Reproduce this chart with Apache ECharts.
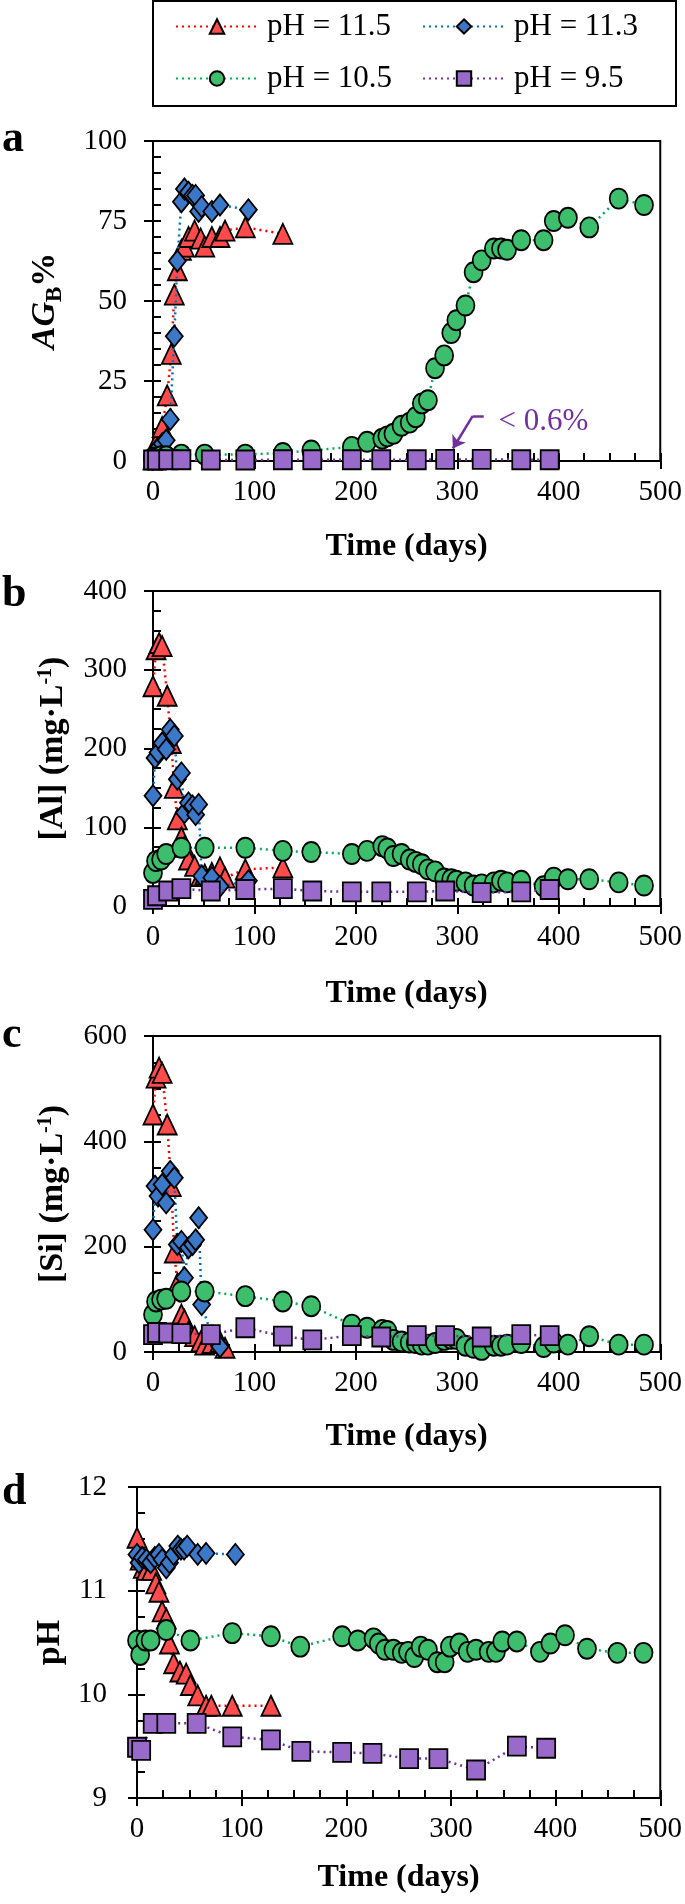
<!DOCTYPE html>
<html><head><meta charset="utf-8">
<script src="https://cdn.jsdelivr.net/npm/echarts@6/dist/echarts.min.js"></script>
<style>html,body{margin:0;padding:0;background:#fff}#c{width:685px;height:1904px}</style>
</head><body><div id="c"></div>
<script>
// ---------- DATA ----------
const seriesNames = ['pH = 11.5', 'pH = 11.3', 'pH = 10.5', 'pH = 9.5'];
const xTickLabels = [0, 100, 200, 300, 400, 500];

// pH = 11.5 (red triangles)
const tRed   = [0, 3, 6, 9, 14, 18, 21, 24, 28, 31, 35, 41, 47, 51, 58, 66, 71, 91, 128];
const redAG  = [0.5, 5, 7.5, 10.6, 20.5, 33.5, 52, 59.6, 66, 67, 70, 72, 69.5, 67, 70, 70, 72, 73, 71];
const redAl  = [279, 326, 334, 330, 267, 207, 150, 110, 87, 75, 59, 51, 38, 40, 42, 49, 36, 46.5, 49];
const redSi  = [451, 521, 540, 530, 432, 315, 189, 130, 71, 61, 39, 30, 20, 14, 17, 20, 8, null, null];
const redPH  = [11.51, 11.3, 11.22, 11.2, 11.2, 11.07, 10.99, 10.8, 10.73, 10.49, 10.3, 10.22, 10.2, 10.09, 9.99, 9.89, 9.89, 9.89, 9.89];

// pH = 11.3 (blue diamonds)
const tBlue  = [0, 2, 5, 9, 13, 17, 21, 24, 28, 31, 35, 39, 42, 45, 48, 58, 66, 94];
const blueAG = [0.5, 2, 4, 5.4, 6.5, 13, 39, 62.5, 81, 85, 84, 83, 83, 78, 79.5, 78, 80, 78.5];
const blueAl = [140, 188, 195, 207, 199, 224, 216, 161, 169, 118.5, 131, 127, 116, 129, 38, 36, 25, 32];
const blueSi = [232, 315, 296, 318, 283, 343, 331, 204, 210, 141, 198, 204, 213, 255, 90, 30, 10, null];
const bluePH = [11.35, 11.27, 11.32, 11.3, 11.27, 11.32, 11.35, 11.3, 11.22, 11.27, 11.35, 11.43, 11.4, 11.4, 11.43, 11.35, 11.36, 11.35];

// pH = 10.5 (green circles)
const tGreen  = [0, 3, 8, 13, 28, 51, 91, 128, 156, 196, 211, 226, 231, 237, 245, 253, 259, 265, 271, 278, 287, 294, 299, 308, 316, 324, 336, 343, 349, 363, 385, 395, 409, 430, 459, 484];
const greenAG = [1, 1, 1.5, 1.5, 2, 2, 2, 2.5, 3.3, 4.4, 6, 7, 7.7, 8.5, 11, 12, 13.7, 18, 19, 29, 33, 40, 44, 48.6, 59, 62.7, 66.4, 66.4, 66, 69, 69, 75, 76, 73, 82, 80];
const greenAl = [42, 57, 59, 66, 74, 74, 74, 70, 68.6, 66, 70, 76, 73, 63.5, 66, 59, 56, 53, 46.5, 44, 35, 34, 32, 30, 26, 27.5, 30, 32, 30, 32, 25, 36, 34, 34, 30, 26];
const greenSi = [71, 96, 99.5, 101, 115, 115, 106, 96, 87, 52, 46, 42, 40, 23, 20, 18, 17, 14, 14, 17, 23, 25, 25, 12, 8, 4, 12, 12, 14, 17, 9.5, 18, 14, 30, 14, 14];
const greenPH = [10.52, 10.38, 10.52, 10.52, 10.62, 10.52, 10.59, 10.56, 10.46, 10.56, 10.52, 10.54, 10.49, 10.43, 10.43, 10.4, 10.41, 10.36, 10.46, 10.43, 10.31, 10.31, 10.46, 10.49, 10.41, 10.43, 10.41, 10.41, 10.51, 10.51, 10.41, 10.49, 10.57, 10.44, 10.4, 10.4];

// pH = 9.5 (purple squares)
const tPurple  = [0, 4, 15, 28, 57, 91, 128, 157, 196, 225, 260, 288, 324, 363, 391];
const purpleAG = [0.3, 0.3, 0.4, 0.4, 0.3, 0.3, 0.4, 0.4, 0.4, 0.4, 0.4, 0.5, 0.5, 0.4, 0.4];
const purpleAl = [8.5, 13, 19, 22, 19, 21, 22, 19, 18, 18, 18, 19, 17, 18, 21];
const purpleSi = [33, 37, 36, 35, 33, 46, 30, 23, 31, 28.5, 31, 31, 28.5, 33, 31];
const purplePH = [9.49, 9.46, 9.72, 9.72, 9.72, 9.59, 9.56, 9.45, 9.44, 9.43, 9.38, 9.38, 9.27, 9.5, 9.48];

// panel y-axes
const panelLetters = ['a', 'b', 'c', 'd'];
const yMin = [0, 0, 0, 9];
const yMax = [100, 400, 600, 12];
const yStep = [25, 100, 200, 1];
const yMinorSplit = [5, 4, 4, 4];

// annotation (panel a) in data units
const noteText = '< 0.6%';
const notePath = [[326, 14], [315, 14], [295.6, 3.9]];
const noteAnchor = [340, 12.3];

// ---------- STYLE ----------
const FONT = 'Liberation Serif';
const FILL = ['#FF4B4B', '#3B78C8', '#3DBE6C', '#9A6ACB'];
const LINE = ['#FF0000', '#0070C0', '#00B050', '#7030A0'];
const SYMBOL = ['triangle', 'diamond', 'circle', 'rect'];
const SYMSIZE = [[19, 20], [17, 21], [18, 20], [18, 19]];

const grids = [
  { left: 153, right: 22, top: 141, height: 320 },
  { left: 153, right: 22, top: 591, height: 315 },
  { left: 153, right: 22, top: 1036, height: 316 },
  { left: 137, right: 22, top: 1487, height: 311 }
].map(g => Object.assign({ show: true, borderColor: '#000', borderWidth: 2, backgroundColor: 'transparent' }, g));

const yNames = [
  '{i|AG}{s|B}{p|%}',
  '{p|[Al] (mg·L}{u|-1}{p|)}',
  '{p|[Si] (mg·L}{u|-1}{p|)}',
  '{p|pH}'
];
const yNameGap = [86, 83, 83, 65];
const xNameGap = [70, 72, 69, 64];
const rich = {
  i: { fontFamily: FONT, fontStyle: 'italic', fontWeight: 'bold', fontSize: 34, lineHeight: 34, color: '#000' },
  p: { fontFamily: FONT, fontWeight: 'bold', fontSize: 34, lineHeight: 34, color: '#000' },
  s: { fontFamily: FONT, fontWeight: 'bold', fontSize: 23, lineHeight: 44, verticalAlign: 'bottom', color: '#000' },
  u: { fontFamily: FONT, fontWeight: 'bold', fontSize: 20, lineHeight: 34, verticalAlign: 'top', color: '#000' }
};

const xAxes = [], yAxes = [], series = [];
const allData = [
  [[tRed, redAG], [tBlue, blueAG], [tGreen, greenAG], [tPurple, purpleAG]],
  [[tRed, redAl], [tBlue, blueAl], [tGreen, greenAl], [tPurple, purpleAl]],
  [[tRed, redSi], [tBlue, blueSi], [tGreen, greenSi], [tPurple, purpleSi]],
  [[tRed, redPH], [tBlue, bluePH], [tGreen, greenPH], [tPurple, purplePH]]
];
function pairs(t, v) { return t.map((x, i) => v[i] == null ? null : [x, v[i]]).filter(p => p); }

for (let g = 0; g < 4; g++) {
  const xBase = { gridIndex: g, type: 'value', min: xTickLabels[0], max: xTickLabels[xTickLabels.length - 1], interval: 100,
    position: 'bottom', splitLine: { show: false },
    axisLine: { onZero: false, lineStyle: { color: '#000', width: 2 } } };
  xAxes.push(Object.assign({}, xBase, {
    axisTick: { inside: false, length: 8, lineStyle: { color: '#000', width: 2 } },
    axisLabel: { fontFamily: FONT, fontSize: 29, color: '#000', margin: 17 },
    name: 'Time (days)', nameLocation: 'middle', nameGap: xNameGap[g],
    nameTextStyle: { fontFamily: FONT, fontWeight: 'bold', fontSize: 32, color: '#000' }
  }));
  xAxes.push(Object.assign({}, xBase, {
    axisTick: { inside: true, length: 8, lineStyle: { color: '#000', width: 2 } },
    minorTick: { show: true, splitNumber: 4, length: 8, lineStyle: { color: '#000', width: 2 } },
    axisLabel: { show: false }
  }));
  const yBase = { gridIndex: g, type: 'value', min: yMin[g], max: yMax[g], interval: yStep[g], position: 'left',
    splitLine: { show: false }, axisLine: { onZero: false, lineStyle: { color: '#000', width: 2 } } };
  yAxes.push(Object.assign({}, yBase, {
    axisTick: { inside: false, length: 9, lineStyle: { color: '#000', width: 2 } },
    axisLabel: { fontFamily: FONT, fontSize: 29, color: '#000', margin: g === 3 ? 30 : 26 },
    name: yNames[g], nameLocation: 'middle', nameRotate: 90, nameGap: yNameGap[g],
    nameTextStyle: { rich: rich }
  }));
  yAxes.push(Object.assign({}, yBase, {
    axisTick: { inside: true, length: 8, lineStyle: { color: '#000', width: 2 } },
    minorTick: { show: true, splitNumber: yMinorSplit[g], length: 8, lineStyle: { color: '#000', width: 2 } },
    axisLabel: { show: false }
  }));
  for (let s = 0; s < 4; s++) {
    const [t, v] = allData[g][s];
    const ser = {
      name: seriesNames[s], type: 'line', xAxisIndex: 2 * g, yAxisIndex: 2 * g,
      data: pairs(t, v), symbol: SYMBOL[s], symbolSize: SYMSIZE[s], showSymbol: true,
      connectNulls: true, z: 2 + s,
      itemStyle: { color: FILL[s], borderColor: '#000', borderWidth: 1.8 },
      lineStyle: { color: LINE[s], width: 2.5, type: [2, 4] },
      emphasis: { disabled: true }
    };
    if (g === 0 && s === 3) {
      ser.markLine = {
        silent: true, animation: false,
        lineStyle: { color: '#7030A0', width: 2.5, type: 'solid' },
        label: { show: false },
        data: [
          [{ coord: notePath[0], symbol: 'none' }, { coord: notePath[1], symbol: 'none' }],
          [{ coord: notePath[1], symbol: 'none' }, { coord: notePath[2], symbol: 'arrow', symbolSize: 12 }]
        ]
      };
      ser.markPoint = {
        silent: true, animation: false,
        data: [{ coord: noteAnchor, symbol: 'circle', symbolSize: 1, itemStyle: { color: 'transparent' },
          label: { show: true, formatter: noteText, position: 'right', distance: 0,
            fontFamily: FONT, fontSize: 31, color: '#7030A0' } }]
      };
    }
    series.push(ser);
  }
}

const legendBase = { orient: 'horizontal', itemWidth: 82, itemHeight: 18, padding: 0, selectedMode: false,
  textStyle: { fontFamily: FONT, fontSize: 31, color: '#000', padding: [0, 0, 0, 4] } };
const legends = [
  Object.assign({}, legendBase, { data: [seriesNames[0]], left: 175, top: 11 }),
  Object.assign({}, legendBase, { data: [seriesNames[1]], left: 422, top: 11 }),
  Object.assign({}, legendBase, { data: [seriesNames[2]], left: 175, top: 63 }),
  Object.assign({}, legendBase, { data: [seriesNames[3]], left: 422, top: 63 })
];

const letterTops = [118, 573, 1014, 1471];
const graphics = [
  { type: 'rect', shape: { x: 153, y: 1, width: 523, height: 105 }, style: { fill: 'none', stroke: '#000', lineWidth: 2 } }
].concat(panelLetters.map((L, i) => ({
  type: 'text', left: 2, top: letterTops[i],
  style: { text: L, fontFamily: FONT, fontWeight: 'bold', fontSize: 44, fill: '#000' }
})));

const chart = echarts.init(document.getElementById('c'), null, { renderer: 'canvas' });
chart.setOption({
  animation: false,
  backgroundColor: '#fff',
  grid: grids, xAxis: xAxes, yAxis: yAxes, series: series,
  legend: legends, graphic: graphics
});
</script></body></html>
